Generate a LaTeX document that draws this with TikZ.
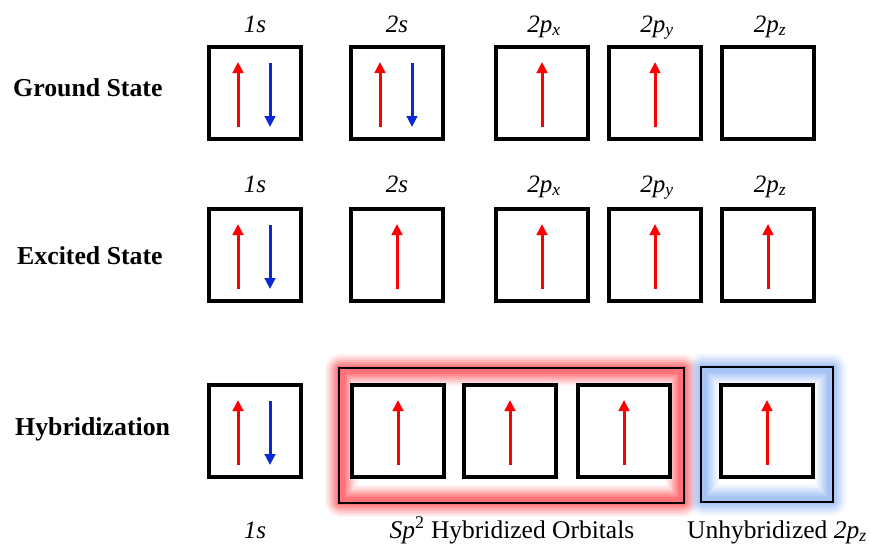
\documentclass[tikz,border=0pt]{standalone}
\usepackage{fontspec}
\setmainfont{Liberation Serif}
\usetikzlibrary{arrows.meta,calc}
\definecolor{spinred}{RGB}{255,0,0}
\definecolor{spinblue}{RGB}{10,40,215}
\definecolor{glowred}{RGB}{255,115,120}
\definecolor{glowblue}{RGB}{165,195,245}
\tikzset{
 orb/.style={draw=black, line width=4pt, fill=white, minimum width=92pt, minimum height=92pt, inner sep=0pt},
 upspin/.style={draw=spinred, line width=3pt, -{Triangle[length=11pt,width=10.5pt]}},
 downspin/.style={draw=spinblue, line width=3pt, -{Triangle[length=11pt,width=10.5pt]}},
 statelbl/.style={anchor=base west, font=\fontsize{25.8}{30}\selectfont\bfseries, inner sep=0pt},
 orblbl/.style={anchor=base, font=\fontsize{25}{29}\selectfont\itshape, inner sep=0pt},
 grplbl/.style={anchor=base, font=\fontsize{25.5}{30}\selectfont, inner sep=0pt},
 grp/.style={draw=black, line width=1.5pt},
}
\begin{document}
\begin{tikzpicture}[x=1pt,y=-1pt]
\useasboundingbox (0,0) rectangle (870,544);

% group frames (coordinates)
\coordinate (sp2nw) at (339,368);
\coordinate (sp2se) at (684,503);
\coordinate (unnw) at (701,367);
\coordinate (unse) at (833,502);

% glows
\foreach \w/\o in {32/0.1,28/0.13,24/0.18,20/0.25,16/0.35,12/0.45} {
  \draw[glowred, line width=\w pt, opacity=\o, line join=round] ($(sp2nw)+(2,2)$) rectangle ($(sp2se)+(-2,-2)$);
  \draw[glowblue, line width=\w pt, opacity=\o, line join=round] ($(unnw)+(2,2)$) rectangle ($(unse)+(-2,-2)$);
}
\draw[glowred, line width=8pt] ($(sp2nw)+(2,2)$) rectangle ($(sp2se)+(-2,-2)$);
\draw[glowblue, line width=8pt] ($(unnw)+(2,2)$) rectangle ($(unse)+(-2,-2)$);
\draw[grp] (sp2nw) rectangle (sp2se);
\draw[grp] (unnw) rectangle (unse);

% state labels
\node[statelbl] (lg) at (13,96) {Ground State};
\node[statelbl] (le) at (17,264) {Excited State};
\node[statelbl] (lh) at (15,435) {Hybridization};

% ground state
\node[orb] (g1) at (255,93) {};
\node[orb] (g2) at (397,93) {};
\node[orb] (g3) at (542,93) {};
\node[orb] (g4) at (655,93) {};
\node[orb] (g5) at (768,93) {};
\node[orblbl] (tg1) at (255,32) {1s};
\node[orblbl] (tg2) at (397,32) {2s};
\node[orblbl] (tg3) at (544,32) {2p\textsubscript{x}};
\node[orblbl] (tg4) at (657,32) {2p\textsubscript{y}};
\node[orblbl] (tg5) at (770,32) {2p\textsubscript{z}};
\draw[upspin] ($(g1.center)+(-17,34)$) -- ($(g1.center)+(-17,-31)$);
\draw[downspin] ($(g1.center)+(15,-30)$) -- ($(g1.center)+(15,34)$);
\draw[upspin] ($(g2.center)+(-17,34)$) -- ($(g2.center)+(-17,-31)$);
\draw[downspin] ($(g2.center)+(15,-30)$) -- ($(g2.center)+(15,34)$);
\draw[upspin] ($(g3.center)+(0,34)$) -- ($(g3.center)+(0,-31)$);
\draw[upspin] ($(g4.center)+(0,34)$) -- ($(g4.center)+(0,-31)$);

% excited state
\node[orb] (e1) at (255,255) {};
\node[orb] (e2) at (397,255) {};
\node[orb] (e3) at (542,255) {};
\node[orb] (e4) at (655,255) {};
\node[orb] (e5) at (768,255) {};
\node[orblbl] (te1) at (255,192) {1s};
\node[orblbl] (te2) at (397,192) {2s};
\node[orblbl] (te3) at (544,192) {2p\textsubscript{x}};
\node[orblbl] (te4) at (657,192) {2p\textsubscript{y}};
\node[orblbl] (te5) at (770,192) {2p\textsubscript{z}};
\draw[upspin] ($(e1.center)+(-17,34)$) -- ($(e1.center)+(-17,-31)$);
\draw[downspin] ($(e1.center)+(15,-30)$) -- ($(e1.center)+(15,34)$);
\draw[upspin] ($(e2.center)+(0,34)$) -- ($(e2.center)+(0,-31)$);
\draw[upspin] ($(e3.center)+(0,34)$) -- ($(e3.center)+(0,-31)$);
\draw[upspin] ($(e4.center)+(0,34)$) -- ($(e4.center)+(0,-31)$);
\draw[upspin] ($(e5.center)+(0,34)$) -- ($(e5.center)+(0,-31)$);

% hybridization
\node[orb] (h1) at (255,431) {};
\node[orb] (h2) at (398,431) {};
\node[orb] (h3) at (510,431) {};
\node[orb] (h4) at (624,431) {};
\node[orb] (h5) at (767,431) {};
\draw[upspin] ($(h1.center)+(-17,34)$) -- ($(h1.center)+(-17,-31)$);
\draw[downspin] ($(h1.center)+(15,-30)$) -- ($(h1.center)+(15,34)$);
\draw[upspin] ($(h2.center)+(0,34)$) -- ($(h2.center)+(0,-31)$);
\draw[upspin] ($(h3.center)+(0,34)$) -- ($(h3.center)+(0,-31)$);
\draw[upspin] ($(h4.center)+(0,34)$) -- ($(h4.center)+(0,-31)$);
\draw[upspin] ($(h5.center)+(0,34)$) -- ($(h5.center)+(0,-31)$);

\node[orblbl] (bh1) at (255,538) {1s};
\node[grplbl] (bsp) at (512,538) {\textit{Sp}\textsuperscript{2} Hybridized Orbitals};
\node[grplbl] (bun) at (777,538) {Unhybridized \textit{2p\textsubscript{z}}};
\end{tikzpicture}
\end{document}
